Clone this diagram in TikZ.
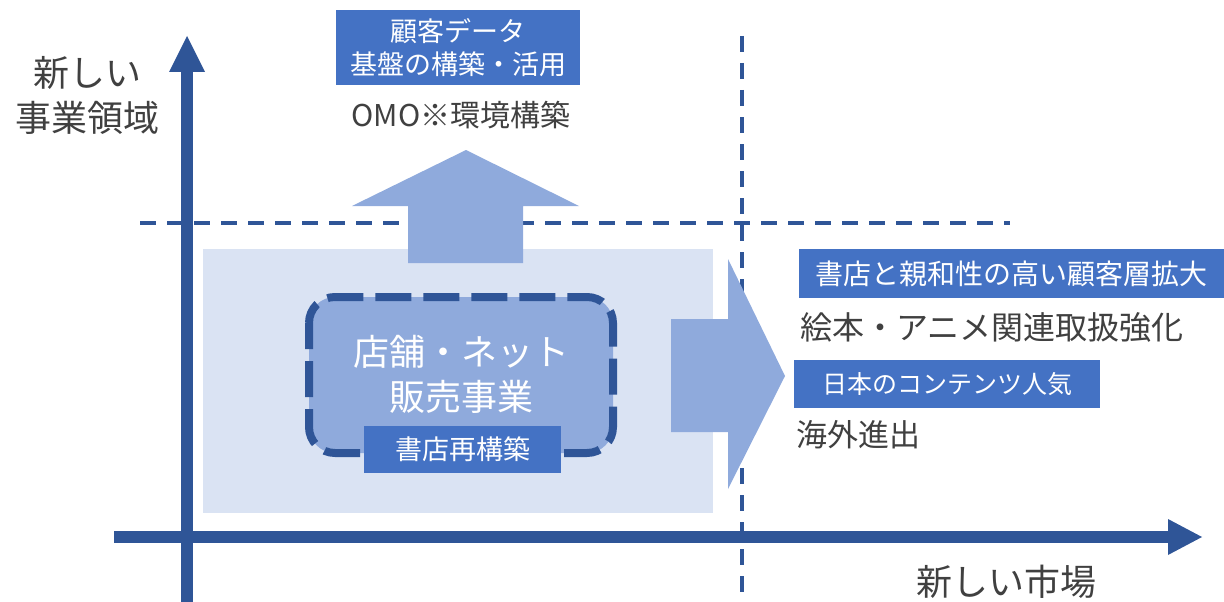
\documentclass[tikz,border=0pt]{standalone}
\usepackage{fontspec}
\setmainfont{Noto Sans CJK JP}
\definecolor{axisblue}{HTML}{2F5597}
\definecolor{lightbg}{HTML}{DAE3F3}
\definecolor{midblue}{HTML}{8FAADC}
\definecolor{boxblue}{HTML}{4472C4}
\definecolor{graytxt}{HTML}{404040}
\tikzset{
  guide/.style={axisblue, line width=3.5pt, dash pattern=on 16pt off 11pt},
  axisline/.style={axisblue, line width=12pt},
  axishead/.style={fill=axisblue, draw=none},
  blockarrow/.style={fill=midblue, draw=none},
  labelbox/.style={fill=boxblue, draw=none, text=white, inner sep=0pt, align=center},
  graylabel/.style={text=graytxt, inner sep=0pt, align=center},
}
\begin{document}
\begin{tikzpicture}[x=1pt, y=-1pt]
\useasboundingbox (0,0) rectangle (1224,602);
% guide lines
\coordinate (hgA) at (140,223);
\coordinate (hgB) at (1010,223);
\coordinate (vgA) at (742,36);
\coordinate (vgB) at (742,602);
\draw[guide] (hgA) -- (hgB);
\draw[guide] (vgA) -- (vgB);
% light background area
\node[fill=lightbg, minimum width=510pt, minimum height=264pt, inner sep=0pt, anchor=north west] (area) at (203,249) {};
% axes
\coordinate (yaxB) at (187,602);
\coordinate (yaxT) at (187,71);
\draw[axisline] (yaxB) -- (yaxT);
\fill[axishead] (169,72) -- (187,36) -- (205,72) -- cycle;
\coordinate (xaxL) at (114,537);
\coordinate (xaxR) at (1169,537);
\draw[axisline] (xaxL) -- (xaxR);
\fill[axishead] (1168,519) -- (1202,537) -- (1168,555) -- cycle;
% up block arrow
\fill[blockarrow] (408,263) -- (408,206) -- (352,206) -- (466,150) -- (579,206) -- (523,206) -- (523,263) -- cycle;
% right block arrow
\fill[blockarrow] (671,319) -- (728,319) -- (728,259) -- (785,376) -- (728,489) -- (728,432) -- (671,432) -- cycle;
% main dashed rounded box
\draw[axisblue, fill=midblue, line width=8pt, rounded corners=26pt, dash pattern=on 36pt off 12pt, dash phase=10pt] (309,297) rectangle (613,453);
\node[text=white, inner sep=0pt, align=center, font=\fontsize{36}{45}\selectfont] (core) at (461,374) {店舗・ネット\\販売事業};
\node[labelbox, minimum width=197pt, minimum height=47pt, font=\fontsize{27}{32}\selectfont] (rebuild) at (462.5,449.5) {書店再構築};
% top labels
\node[labelbox, minimum width=244pt, minimum height=75pt, font=\fontsize{27}{33}\selectfont] (cdata) at (458,47.5) {顧客データ\\基盤の構築・活用};
\node[graylabel, font=\fontsize{30}{35}\selectfont] (omo) at (461,115) {OMO※環境構築};
% right labels
\node[labelbox, minimum width=425pt, minimum height=49pt, font=\fontsize{28}{33}\selectfont] (affin) at (1011.5,273.5) {書店と親和性の高い顧客層拡大};
\node[graylabel, anchor=west, font=\fontsize{32}{36}\selectfont] (ehon) at (800,327) {絵本・アニメ関連取扱強化};
\node[labelbox, minimum width=306pt, minimum height=48pt, font=\fontsize{25}{30}\selectfont] (jcont) at (947,384) {日本のコンテンツ人気};
\node[graylabel, anchor=west, font=\fontsize{31}{36}\selectfont] (kaigai) at (796,435) {海外進出};
% axis labels
\node[graylabel, font=\fontsize{36}{45}\selectfont] (ylab) at (88,95) {新しい\\事業領域};
\node[graylabel, font=\fontsize{36}{40}\selectfont] (xlab) at (1006,582) {新しい市場};
\end{tikzpicture}
\end{document}
